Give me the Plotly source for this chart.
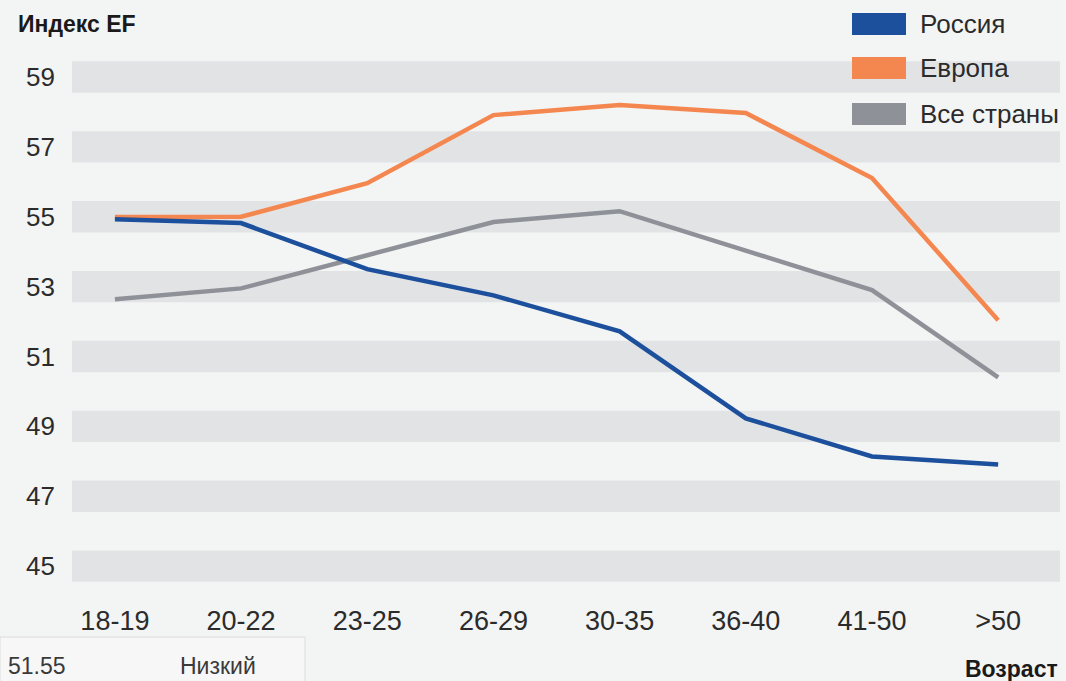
import plotly.graph_objects as go

categories = ["18-19", "20-22", "23-25", "26-29", "30-35", "36-40", "41-50", ">50"]
russia = [54.93, 54.82, 53.50, 52.75, 51.72, 49.23, 48.14, 47.91]
europe = [54.99, 55.00, 55.96, 57.91, 58.20, 57.97, 56.11, 52.04]
all_countries = [52.64, 52.95, 53.90, 54.85, 55.16, 54.04, 52.90, 50.40]
y_ticks = [45, 47, 49, 51, 53, 55, 57, 59]
series_names = ["Россия", "Европа", "Все страны"]
colors = ["#1c4f9c", "#f4874f", "#8e9298"]

BG = "#f3f4f4"
BAND = "#e2e3e5"
TXT = "#2b2b2b"
FONT = "Liberation Sans, Arial, sans-serif"

fig = go.Figure()
x_idx = list(range(len(categories)))

# draw order: grey, orange, blue on top
for name, vals, col in [(series_names[2], all_countries, colors[2]),
                        (series_names[1], europe, colors[1]),
                        (series_names[0], russia, colors[0])]:
    fig.add_trace(go.Scatter(x=x_idx, y=vals, mode="lines", name=name,
                             line=dict(color=col, width=4.5), showlegend=False))

shapes = []
for t in y_ticks:
    shapes.append(dict(type="rect", xref="paper", yref="y", x0=0, x1=1,
                       y0=t - 0.45, y1=t + 0.45, fillcolor=BAND, line=dict(width=0),
                       layer="below"))

# legend (manual)
annotations = []
leg_y = [24, 68, 114]
for i, (name, col) in enumerate(zip(series_names, colors)):
    shapes.append(dict(type="rect", xref="paper", yref="paper",
                       x0=(852 - 72) / 988, x1=(906 - 72) / 988,
                       y0=(600 - (leg_y[i] + 11)) / 560, y1=(600 - (leg_y[i] - 11)) / 560,
                       fillcolor=col, line=dict(width=0), layer="above"))
    annotations.append(dict(xref="paper", yref="paper", x=(918 - 72) / 988,
                            y=(600 - leg_y[i]) / 560, text=name, showarrow=False,
                            xanchor="left", yanchor="middle",
                            font=dict(size=26, color=TXT, family=FONT)))

# bottom-left box
shapes.append(dict(type="rect", xref="paper", yref="paper",
                   x0=(0 - 72) / 988, x1=(305 - 72) / 988,
                   y0=(600 - 684) / 560, y1=(600 - 637) / 560,
                   fillcolor="#f7f7f7", line=dict(color="#dcdcdc", width=1)))
annotations.append(dict(xref="paper", yref="paper", x=(6 - 72) / 988, y=(600 - 666) / 560,
                        text="51.55", showarrow=False, xanchor="left", yanchor="middle",
                        font=dict(size=23, color="#3a3a3a", family=FONT)))
annotations.append(dict(xref="paper", yref="paper", x=(178 - 72) / 988, y=(600 - 666) / 560,
                        text="Низкий", showarrow=False, xanchor="left", yanchor="middle",
                        font=dict(size=23, color="#3a3a3a", family=FONT)))
# axis titles
annotations.append(dict(xref="paper", yref="paper", x=(16 - 72) / 988, y=(600 - 24) / 560,
                        text="<b>Индекс EF</b>", showarrow=False, xanchor="left", yanchor="middle",
                        font=dict(size=23, color="#1a1a1a", family=FONT)))
annotations.append(dict(xref="paper", yref="paper", x=(1060 - 72) / 988, y=(600 - 669) / 560,
                        text="<b>Возраст</b>", showarrow=False, xanchor="right", yanchor="middle",
                        font=dict(size=23, color="#1a1a1a", family=FONT)))

fig.update_layout(
    width=1066, height=681,
    margin=dict(l=72, r=6, t=40, b=81),
    paper_bgcolor=BG, plot_bgcolor=BG,
    shapes=shapes, annotations=annotations,
    xaxis=dict(range=[-0.34, 7.49], tickmode="array", tickvals=x_idx, ticktext=categories,
               showgrid=False, zeroline=False, showline=False, ticks="",
               tickfont=dict(size=27, color=TXT, family=FONT), ticklabelstandoff=2),
    yaxis=dict(range=[44.03, 60.06], tickmode="array", tickvals=y_ticks,
               ticktext=[str(t) for t in y_ticks],
               showgrid=False, zeroline=False, showline=False, ticks="",
               tickfont=dict(size=26, color=TXT, family=FONT), ticklabelstandoff=16),
)

fig.write_html("out.html")
